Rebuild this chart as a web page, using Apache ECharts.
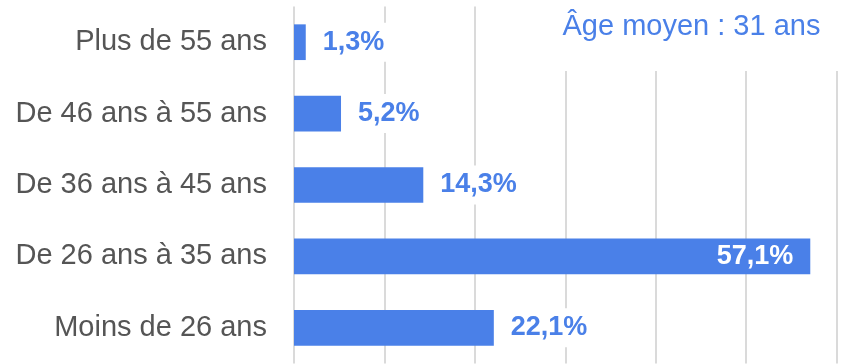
<!DOCTYPE html>
<html>
<head>
<meta charset="utf-8">
<style>
  html, body { margin: 0; padding: 0; background: #fff; }
  #chart { width: 862px; height: 364px; }
</style>
<script src="https://cdn.jsdelivr.net/npm/echarts@6/dist/echarts.min.js"></script>
</head>
<body>
<div id="chart"></div>
<script>
// Age brackets, listed bottom to top
const categories = ['Moins de 26 ans', 'De 26 ans à 35 ans', 'De 36 ans à 45 ans', 'De 46 ans à 55 ans', 'Plus de 55 ans'];
// Share of each bracket, in percent
const shares = [22.1, 57.1, 14.3, 5.2, 1.3];
const averageAgeText = 'Âge moyen : 31 ans';

const FONT = "'Liberation Sans', Arial, sans-serif";
const BLUE = '#4a80e8';

const chart = echarts.init(document.getElementById('chart'), null, { renderer: 'canvas' });

const fmt = v => String(v).replace('.', ',') + '%';

chart.setOption({
  animation: false,
  backgroundColor: '#fff',
  grid: { left: 294, right: 25.5, top: 6.5, height: 357, containLabel: false },
  xAxis: {
    type: 'value', min: 0, max: 60, interval: 10,
    axisLabel: { show: false }, axisLine: { show: false }, axisTick: { show: false },
    splitLine: { show: true, lineStyle: { color: '#dadada', width: 2 } }
  },
  yAxis: {
    type: 'category', data: categories,
    axisLine: { show: false }, axisTick: { show: false },
    axisLabel: { fontFamily: FONT, fontSize: 29, color: '#555555', margin: 27 }
  },
  series: [{
    type: 'bar',
    barWidth: '50%',
    itemStyle: { color: BLUE },
    data: shares.map(v => {
      const item = { value: v };
      if (v > 50) {
        // the widest bar carries its value inside, near its end
        item.label = { position: 'insideRight', color: '#fff', backgroundColor: 'transparent' };
      }
      return item;
    }),
    label: {
      show: true, position: 'right', distance: 11,
      formatter: p => fmt(p.value),
      fontFamily: FONT, fontSize: 27, fontWeight: 'bold', color: BLUE,
      backgroundColor: '#fff', padding: [6, 6]
    }
  }],
  graphic: [
    { type: 'rect', z: 100, shape: { x: 548, y: 0, width: 314, height: 71 }, style: { fill: '#fff' } },
    { type: 'text', z: 101, x: 562.5, y: 27,
      style: { text: averageAgeText, font: '29px ' + FONT, fill: BLUE, textVerticalAlign: 'middle' } }
  ]
});
</script>
</body>
</html>
